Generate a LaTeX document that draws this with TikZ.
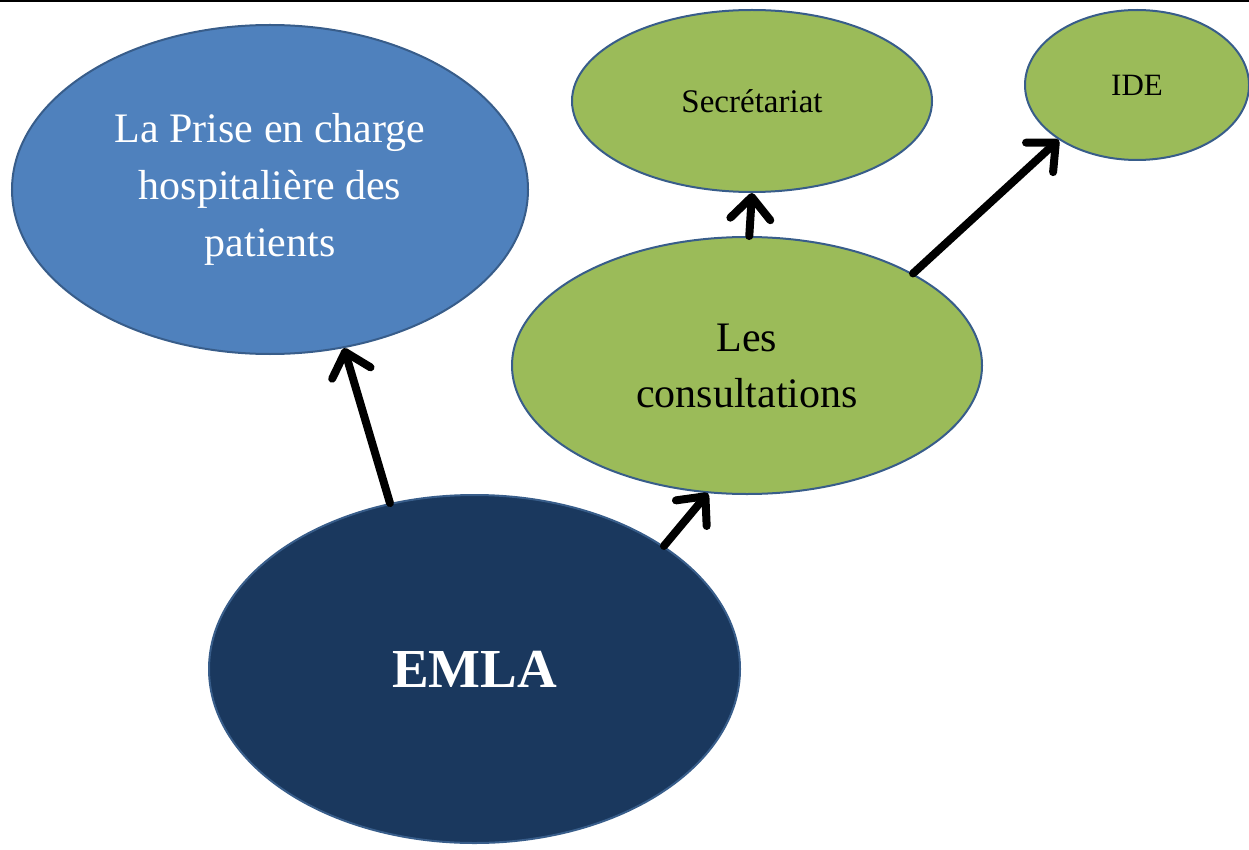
\documentclass[tikz,border=0pt]{standalone}
\usepackage{fontspec}
\setmainfont{Liberation Serif}
\usetikzlibrary{shapes.geometric,arrows.meta}
\definecolor{midblue}{HTML}{4F81BD}
\definecolor{edgeblue}{HTML}{385D8A}
\definecolor{leafgreen}{HTML}{9BBB59}
\definecolor{navy}{HTML}{1A385E}
\tikzset{
  bubble/.style={ellipse, draw=edgeblue, line width=2pt, inner sep=0pt, align=center},
  bluebubble/.style={bubble, fill=midblue, text=white},
  greenbubble/.style={bubble, fill=leafgreen, text=black},
  navybubble/.style={bubble, fill=navy, text=white},
  link/.style={line width=8pt, line cap=round, line join=round,
    -{Straight Barb[length=22pt, width=40pt, line cap=round, line join=round]}}
}
\begin{document}
\begin{tikzpicture}[x=1pt, y=-1pt]
\useasboundingbox (0,0) rectangle (1249,850);
\draw[line width=2pt] (0,1) -- (1249,1);

\node[bluebubble, minimum width=516pt, minimum height=329pt,
  font=\fontsize{42}{57}\selectfont] (prise) at (270,189.5)
  {La Prise en charge\\hospitalière des\\patients};
\node[greenbubble, minimum width=360pt, minimum height=182pt,
  font=\fontsize{33}{40}\selectfont] (secr) at (752,101) {Secrétariat};
\node[greenbubble, minimum width=224pt, minimum height=150pt,
  font=\fontsize{31}{38}\selectfont] (ide) at (1137,85) {IDE};
\node[greenbubble, minimum width=470pt, minimum height=257pt,
  font=\fontsize{42}{56}\selectfont] (consult) at (747,365.5)
  {Les\\consultations};
\node[navybubble, minimum width=531pt, minimum height=348pt,
  font=\fontsize{55}{66}\selectfont\bfseries] (emla) at (474.5,669) {EMLA};

\draw[link] (emla.117.5) -- (prise.-65.3);
\draw[link] (emla.33.5) -- (consult.-107.2);
\draw[link] (consult.89.5) -- (secr.-90);
\draw[link] (consult.29.3) -- (ide.-145.2);
\end{tikzpicture}
\end{document}
